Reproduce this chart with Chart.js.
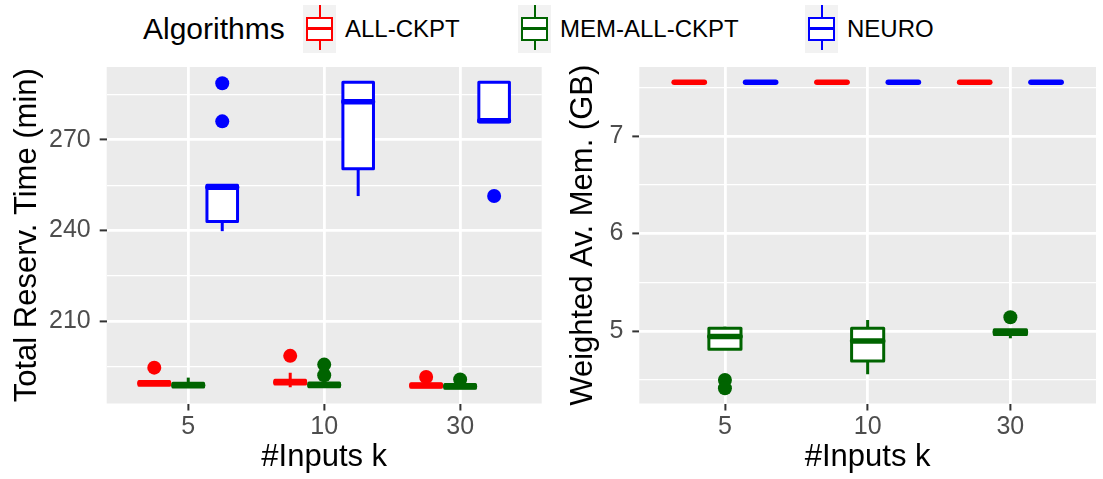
<!DOCTYPE html>
<html>
<head>
<meta charset="utf-8">
<script src="https://cdn.jsdelivr.net/npm/chart.js@4.4.0/dist/chart.umd.min.js"></script>
<style>
  html, body { margin: 0; padding: 0; background: #fff; }
  body { width: 1103px; height: 479px; position: relative; overflow: hidden;
         font-family: 'Liberation Sans', Arial, sans-serif; }
  .wrap { position: absolute; top: 0; height: 479px; }
  #leftWrap { left: 0; width: 552px; }
  #rightWrap { left: 552px; width: 551px; }
  .legend-title, .legend-label { position: absolute; top: 29px; transform: translateY(-50%);
         white-space: nowrap; color: #000; line-height: 1; }
  .legend-title { font-size: 30px; }
  .legend-label { font-size: 24px; }
  .key { position: absolute; top: 5px; width: 33px; height: 48px; background: #F2F2F2; }
  .key .box { position: absolute; left: 3px; right: 3px; top: 12px; height: 24px;
              box-sizing: border-box; border: 2.5px solid; background: #fff; }
  .key .mid { position: absolute; left: 0; right: 0; top: 8px; height: 2.5px; }
  .key .wt, .key .wb { position: absolute; left: 15.5px; width: 2px; }
  .key .wt { top: 0; height: 12px; }
  .key .wb { top: 36px; height: 9px; }
</style>
</head>
<body>
<div id="legend"></div>
<div class="wrap" id="leftWrap"><canvas id="timeChart"></canvas></div>
<div class="wrap" id="rightWrap"><canvas id="memChart"></canvas></div>
<script>
// categories and groups
const kLabels = ['5', '10', '30'];
const algorithms = ['ALL-CKPT', 'MEM-ALL-CKPT', 'NEURO'];
const algoColors = ['#FF0000', '#006400', '#0000FF'];

// Total reservation time (min), per k: [lower whisker, q1, median, q3, upper whisker]
const timeAllCkpt = [[188.9, 188.9, 189.5, 190.1, 190.1], [188.2, 189.3, 189.9, 190.5, 193.0], [188.2, 188.2, 188.8, 189.4, 189.4]];
const timeMemAllCkpt = [[188.3, 188.3, 188.9, 189.5, 191.4], [188.4, 188.4, 189.0, 189.6, 189.6], [187.9, 187.9, 188.5, 189.1, 189.1]];
const timeNeuro = [[239.8, 243.0, 254.3, 255.0, 255.0], [251.4, 260.4, 282.6, 289.0, 289.0], [276.0, 276.0, 276.3, 289.0, 289.0]];
const timeAllCkptOut = [[194.7], [198.6], [191.6]];
const timeMemAllCkptOut = [[], [192.2, 195.7], [190.8]];
const timeNeuroOut = [[276.1, 288.7], [], [251.4]];
const timeMajor = [210, 240, 270];
const timeMinor = [195, 225, 255, 285];

// Weighted average memory (GB)
const memAllCkpt = [[7.55, 7.55, 7.55, 7.55, 7.55], [7.55, 7.55, 7.55, 7.55, 7.55], [7.55, 7.55, 7.55, 7.55, 7.55]];
const memMemAllCkpt = [[4.812, 4.812, 4.942, 5.027, 5.044], [4.556, 4.693, 4.898, 5.027, 5.113], [4.925, 4.965, 4.99, 5.012, 5.012]];
const memNeuro = [[7.55, 7.55, 7.55, 7.55, 7.55], [7.55, 7.55, 7.55, 7.55, 7.55], [7.55, 7.55, 7.55, 7.55, 7.55]];
const memAllCkptOut = [[], [], []];
const memMemAllCkptOut = [[4.498, 4.413], [], [5.14]];
const memNeuroOut = [[], [], []];
const memMajor = [5, 6, 7];
const memMinor = [4.5, 5.5, 6.5, 7.5];

Chart.defaults.font.family = "'Liberation Sans', Arial, sans-serif";

const dodge = [-0.25, 0, 0.25];
const halfBox = 0.1125;

// legend
const legend = document.getElementById('legend');
const legendTitle = document.createElement('div');
legendTitle.className = 'legend-title';
legendTitle.style.left = '143px';
legendTitle.textContent = 'Algorithms';
legend.appendChild(legendTitle);
const keyLeft = [303, 518, 805];
algorithms.forEach((name, i) => {
  const key = document.createElement('div');
  key.className = 'key';
  key.style.left = keyLeft[i] + 'px';
  const c = algoColors[i];
  key.innerHTML = '<div class="wt" style="background:' + c + '"></div>' +
    '<div class="wb" style="background:' + c + '"></div>' +
    '<div class="box" style="border-color:' + c + '"><div class="mid" style="background:' + c + '"></div></div>';
  legend.appendChild(key);
  const lab = document.createElement('div');
  lab.className = 'legend-label';
  lab.style.left = (keyLeft[i] + 42) + 'px';
  lab.textContent = name;
  legend.appendChild(lab);
});

function boxPlugin(groups) {
  return {
    id: 'boxplots',
    beforeDraw(chart) {
      const { ctx, chartArea: a } = chart;
      ctx.save();
      ctx.fillStyle = '#EBEBEB';
      ctx.fillRect(a.left, a.top, a.right - a.left, a.bottom - a.top);
      ctx.restore();
    },
    beforeDatasetsDraw(chart) {
      const { ctx } = chart;
      const xs = chart.scales.x, ys = chart.scales.y;
      groups.forEach((stats, gi) => {
        stats.forEach((s, i) => {
          const cx = i + 1 + dodge[gi];
          const x0 = xs.getPixelForValue(cx - halfBox);
          const x1 = xs.getPixelForValue(cx + halfBox);
          const xm = xs.getPixelForValue(cx);
          const [lo, q1, med, q3, hi] = s.map(v => ys.getPixelForValue(v));
          ctx.save();
          ctx.strokeStyle = algoColors[gi];
          ctx.lineJoin = 'round';
          ctx.lineWidth = 3;
          ctx.beginPath();
          ctx.moveTo(xm, hi); ctx.lineTo(xm, q3);
          ctx.moveTo(xm, q1); ctx.lineTo(xm, lo);
          ctx.stroke();
          ctx.fillStyle = '#FFFFFF';
          ctx.fillRect(x0, q3, x1 - x0, q1 - q3);
          ctx.strokeRect(x0, q3, x1 - x0, q1 - q3);
          ctx.lineWidth = 5.5;
          ctx.lineCap = 'round';
          ctx.beginPath();
          ctx.moveTo(x0 + 1, med); ctx.lineTo(x1 - 1, med);
          ctx.stroke();
          ctx.restore();
        });
      });
    }
  };
}

function outlierData(outs, gi) {
  const pts = [];
  outs.forEach((arr, i) => arr.forEach(v => pts.push({ x: i + 1 + dodge[gi], y: v })));
  return pts;
}

function makeChart(id, groups, outliers, major, minor, title, yWidth, titlePad, rightPad) {
  // ggplot-style 5% expansion of the data range
  const all = groups.flat(2).concat(outliers.flat(2));
  const lo = Math.min(...all), hi = Math.max(...all);
  const pad = (hi - lo) * 0.05;
  const ticks = major.concat(minor).sort((a, b) => a - b);
  const isMajor = v => major.includes(v);

  new Chart(document.getElementById(id), {
    type: 'scatter',
    data: {
      datasets: outliers.map((outs, gi) => ({
        label: algorithms[gi],
        data: outlierData(outs, gi),
        backgroundColor: algoColors[gi],
        borderWidth: 0,
        pointRadius: 7,
        pointHoverRadius: 7,
        clip: false
      }))
    },
    options: {
      responsive: true,
      maintainAspectRatio: false,
      animation: false,
      events: [],
      layout: { padding: { top: 67, right: rightPad, bottom: 0, left: 0 } },
      plugins: { legend: { display: false }, tooltip: { enabled: false } },
      scales: {
        x: {
          type: 'linear',
          min: 0.4,
          max: 3.6,
          afterBuildTicks: s => { s.ticks = kLabels.map((l, i) => ({ value: i + 1 })); },
          afterFit: s => { s.height = 75.5; },
          ticks: {
            callback: v => kLabels[v - 1],
            color: '#4D4D4D',
            font: { size: 25 },
            padding: 2,
            autoSkip: false,
            maxRotation: 0
          },
          grid: { color: '#FFFFFF', lineWidth: 2.8, tickLength: 7, tickWidth: 2, tickColor: '#333333' },
          border: { display: false },
          title: { display: true, text: '#Inputs k', color: '#000', font: { size: 31 }, padding: { top: 0, bottom: 3 } }
        },
        y: {
          type: 'linear',
          min: lo - pad,
          max: hi + pad,
          afterBuildTicks: s => { s.ticks = ticks.map(v => ({ value: v })); },
          afterFit: s => { s.width = yWidth; },
          ticks: {
            callback: v => isMajor(v) ? String(v) : '',
            color: '#4D4D4D',
            font: { size: 25 },
            padding: 9,
            autoSkip: false
          },
          grid: {
            color: '#FFFFFF',
            lineWidth: c => (c.tick && isMajor(c.tick.value)) ? 2.8 : 1.3,
            tickLength: 7,
            tickWidth: 2,
            tickColor: c => (c.tick && isMajor(c.tick.value)) ? '#333333' : 'rgba(0,0,0,0)'
          },
          border: { display: false },
          title: { display: true, text: title, color: '#000', font: { size: 31 }, padding: { top: titlePad, bottom: 0 } }
        }
      }
    },
    plugins: [boxPlugin(groups)]
  });
}

makeChart('timeChart',
  [timeAllCkpt, timeMemAllCkpt, timeNeuro],
  [timeAllCkptOut, timeMemAllCkptOut, timeNeuroOut],
  timeMajor, timeMinor, 'Total Reserv. Time (min)', 106.7, 9, 10.3);

makeChart('memChart',
  [memAllCkpt, memMemAllCkpt, memNeuro],
  [memAllCkptOut, memMemAllCkptOut, memNeuroOut],
  memMajor, memMinor, 'Weighted Av. Mem. (GB)', 87.3, 13, 1.3);
</script>
</body>
</html>
